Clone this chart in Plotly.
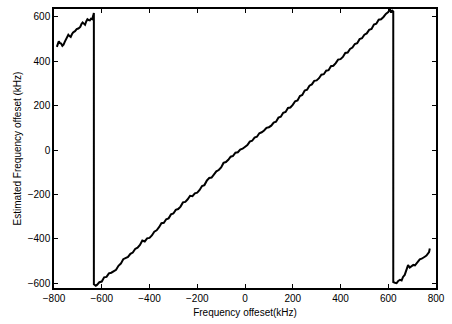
import plotly.graph_objects as go

# Left (wrapped) segment
left_x = [-788, -784, -780, -775, -770, -765, -760, -755, -750, -745, -740, -735, -730, -725, -720, -712,
          -705, -698, -690, -685, -680, -675, -670, -665, -660, -655, -650, -645, -640, -636, -633]
left_y = [465, 478, 490, 482, 480, 470, 475, 488, 500, 505, 520, 514, 510, 522, 530, 536,
          545, 548, 555, 568, 575, 570, 565, 580, 590, 586, 585, 592, 590, 605, 618]

# Main linear segment
main_x = [-633, -625, -620, -610, -600, -590, -580, -570, -560, -550, -540, -530, -520, -510, -500, -490,
          -480, -470, -460, -450, -440, -430, -420, -410, -400, -390, -380, -370, -360, -350, -340, -330,
          -320, -310, -300, -290, -280, -270, -260, -250, -240, -230, -220, -210, -200, -190, -180, -170,
          -160, -150, -140, -130, -120, -110, -100, -90, -80, -70, -60, -50, -40, -30, -20, -10,
          0, 10, 20, 30, 40, 50, 60, 70, 80, 90, 100, 110, 120, 130, 140, 150,
          160, 170, 180, 190, 200, 210, 220, 230, 240, 250, 260, 270, 280, 290, 300, 310,
          320, 330, 340, 350, 360, 370, 380, 390, 400, 410, 420, 430, 440, 450, 460, 470,
          480, 490, 500, 510, 520, 530, 540, 550, 560, 570, 580, 590, 600, 607, 612, 617, 621]
main_y = [-605, -612, -608, -596, -593, -574, -572, -556, -553, -545, -540, -522, -512, -492, -485, -482,
          -468, -462, -446, -440, -428, -408, -412, -398, -396, -385, -368, -362, -348, -330, -328, -312,
          -308, -290, -286, -270, -266, -255, -236, -234, -222, -206, -208, -195, -192, -180, -162, -158,
          -138, -126, -124, -112, -96, -90, -78, -58, -54, -44, -30, -26, -12, -10, 2, 6,
          16, 22, 38, 42, 56, 60, 76, 80, 88, 100, 103, 110, 124, 128, 146, 150,
          168, 172, 190, 192, 204, 220, 224, 244, 248, 268, 272, 290, 296, 312, 314, 324,
          340, 342, 358, 360, 378, 380, 392, 408, 410, 420, 438, 440, 456, 462, 478, 482,
          500, 504, 520, 526, 542, 546, 566, 570, 588, 590, 600, 614, 622, 634, 620, 628, 625]

# Right (wrapped) segment
right_x = [621, 628, 635, 642, 649, 656, 662, 669, 676, 683, 690, 697, 705, 712, 718, 725, 732,
           740, 746, 753, 760, 767, 771, 774]
right_y = [-595, -598, -600, -590, -585, -588, -572, -563, -545, -519, -530, -526, -518, -520, -511,
           -505, -493, -490, -484, -481, -476, -467, -460, -444]

xs = left_x + main_x + right_x
ys = left_y + main_y + right_y

x_ticks = [-800, -600, -400, -200, 0, 200, 400, 600, 800]
y_ticks = [-600, -400, -200, 0, 200, 400, 600]

fig = go.Figure()
fig.add_trace(go.Scatter(x=xs, y=ys, mode="lines",
                         line=dict(color="black", width=2), showlegend=False))

font = dict(family="Liberation Sans, Arial, sans-serif", size=10, color="black")

fig.update_layout(
    width=452, height=324,
    margin=dict(l=54, r=14, t=7, b=34),
    paper_bgcolor="white", plot_bgcolor="white",
    font=font,
)
fig.update_xaxes(range=[-800, 800], tickvals=x_ticks, ticks="inside", ticklen=4,
                 tickcolor="black", showline=True, linecolor="black", linewidth=1.5,
                 mirror="ticks", showgrid=False, zeroline=False,
                 title=dict(text="Frequency offeset(kHz)", standoff=6, font=font))
fig.update_yaxes(range=[-622, 636], tickvals=y_ticks, ticks="inside", ticklen=4,
                 tickcolor="black", showline=True, linecolor="black", linewidth=1.5,
                 mirror="ticks", showgrid=False, zeroline=False,
                 title=dict(text="Estimated Frequency offeset (kHz)", standoff=4, font=font))

fig.write_html("out.html")
